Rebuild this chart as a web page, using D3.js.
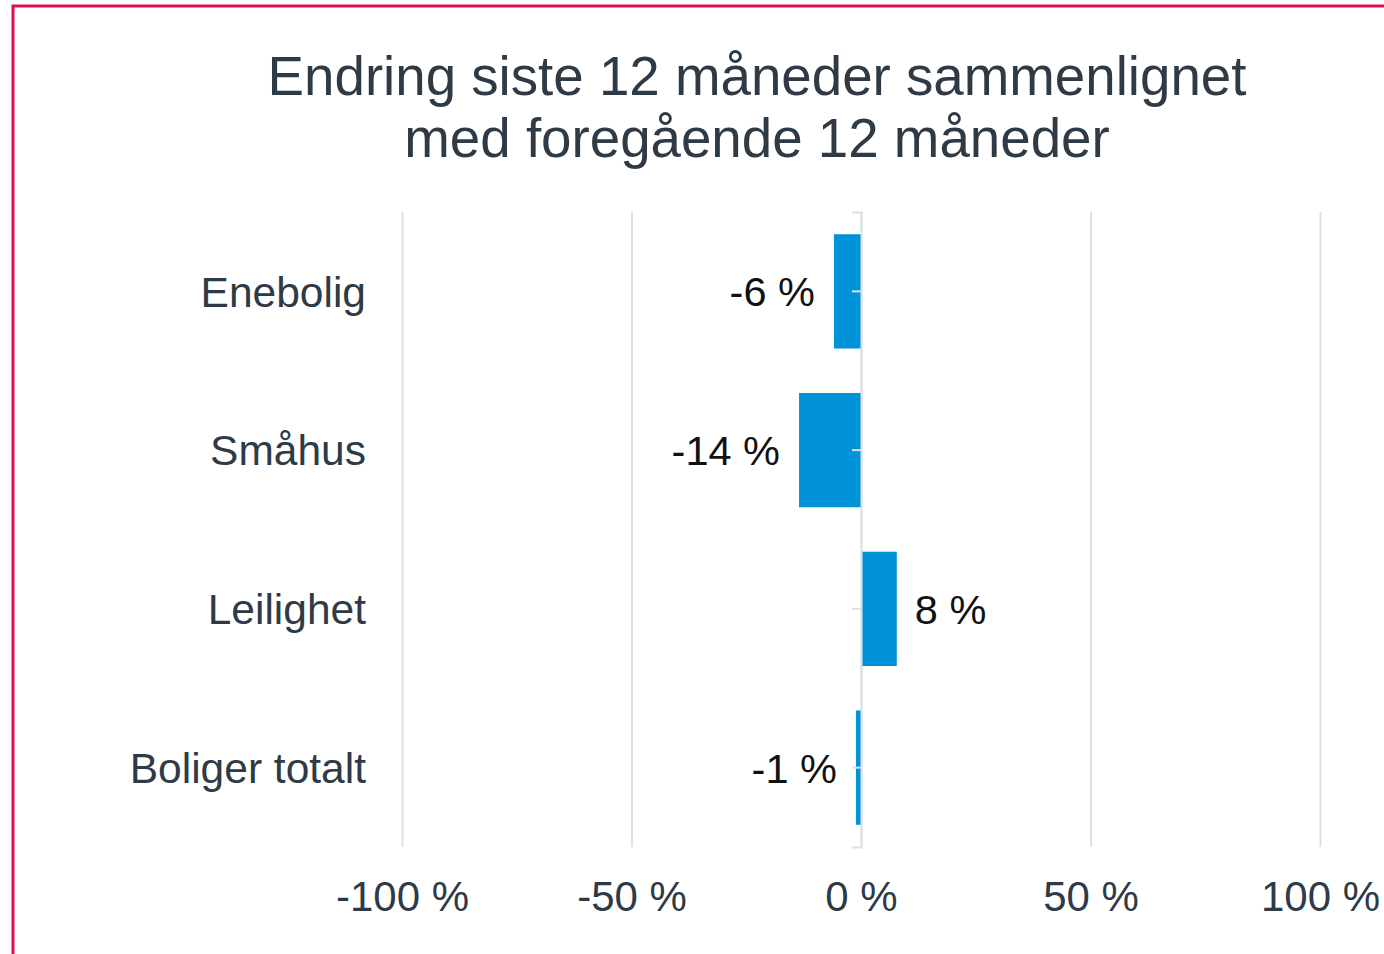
<!DOCTYPE html>
<html lang="no">
<head>
  <meta charset="UTF-8">
  <title>Endring siste 12 måneder</title>
  <script src="https://d3js.org/d3.v7.min.js"></script>
  <style>
    body { margin: 0; padding: 0; background: #fff; font-family: "Liberation Sans", Arial, sans-serif; }
    svg { display: block; }
    .grid line { stroke: #dde1e7; stroke-width: 2px; }
    .grid path { display: none; }
    .grid text { fill: #2e3a46; font-size: 42px; }
    .zero line, .zero path { stroke: #dde1e7; stroke-width: 2px; fill: none; }
    .cat { fill: #2e3a46; font-size: 42.5px; }
    .val { fill: #111; font-size: 41.5px; }
    .title { fill: #2e3a46; font-size: 54.7px; }
  </style>
</head>
<body>
  <div id="chart"></div>

  <script>
    const width = 1384;
    const height = 954;

    const categories = ["Enebolig", "Småhus", "Leilighet", "Boliger totalt"];
    const values = [-0.059, -0.135, 0.078, -0.011];
    const valueLabels = ["-6 %", "-14 %", "8 %", "-1 %"];
    const tickValues = [-1, -0.5, 0, 0.5, 1];
    const tickLabels = ["-100 %", "-50 %", "0 %", "50 %", "100 %"];
    const titleLines = ["Endring siste 12 måneder sammenlignet", "med foregående 12 måneder"];

    const svg = d3.select("#chart")
      .append("svg")
      .attr("width", width)
      .attr("height", height);

    // pink frame (only left and top edges are visible)
    svg.append("rect")
      .attr("x", 13).attr("y", 6)
      .attr("width", width + 20).attr("height", height + 20)
      .attr("fill", "none")
      .attr("stroke", "#dc0b5b")
      .attr("stroke-width", 3);

    const plotTop = 212, plotBottom = 847;

    const x = d3.scaleLinear().domain([-1, 1]).range([402, 1320]);
    const y = d3.scaleBand()
      .domain(categories)
      .range([plotTop, plotBottom])
      .paddingInner(0.28)
      .paddingOuter(0.14);

    // title
    svg.append("text")
      .attr("class", "title")
      .attr("text-anchor", "middle")
      .selectAll("tspan")
      .data(titleLines)
      .join("tspan")
      .attr("x", 757)
      .attr("y", (d, i) => 95 + i * 62)
      .text(d => d);

    // vertical grid + x labels
    const xAxis = d3.axisBottom(x)
      .tickValues(tickValues)
      .tickSize(-(plotBottom - plotTop))
      .tickPadding(24)
      .tickFormat((d, i) => tickLabels[i]);

    const gx = svg.append("g")
      .attr("class", "grid")
      .attr("transform", `translate(0,${plotBottom})`)
      .call(xAxis);
    gx.selectAll("text").attr("dy", "0.95em");

    // bars
    svg.append("g")
      .selectAll("rect")
      .data(values)
      .join("rect")
      .attr("x", d => x(Math.min(0, d)))
      .attr("width", d => Math.abs(x(d) - x(0)))
      .attr("y", (d, i) => y(categories[i]))
      .attr("height", y.bandwidth())
      .attr("fill", "#0093d7");

    // zero axis with small ticks
    svg.append("g")
      .attr("class", "zero")
      .attr("transform", `translate(${x(0)},0)`)
      .call(d3.axisLeft(y).tickSize(9).tickSizeOuter(9).tickFormat(""));

    // category labels
    svg.append("g")
      .selectAll("text")
      .data(categories)
      .join("text")
      .attr("class", "cat")
      .attr("x", 366)
      .attr("y", d => y(d) + y.bandwidth() / 2)
      .attr("dy", "0.36em")
      .attr("text-anchor", "end")
      .text(d => d);

    // value labels
    svg.append("g")
      .selectAll("text")
      .data(values)
      .join("text")
      .attr("class", "val")
      .attr("x", d => d < 0 ? x(d) - 19 : x(d) + 18)
      .attr("y", (d, i) => y(categories[i]) + y.bandwidth() / 2)
      .attr("dy", "0.36em")
      .attr("text-anchor", d => d < 0 ? "end" : "start")
      .text((d, i) => valueLabels[i]);
  </script>
</body>
</html>
